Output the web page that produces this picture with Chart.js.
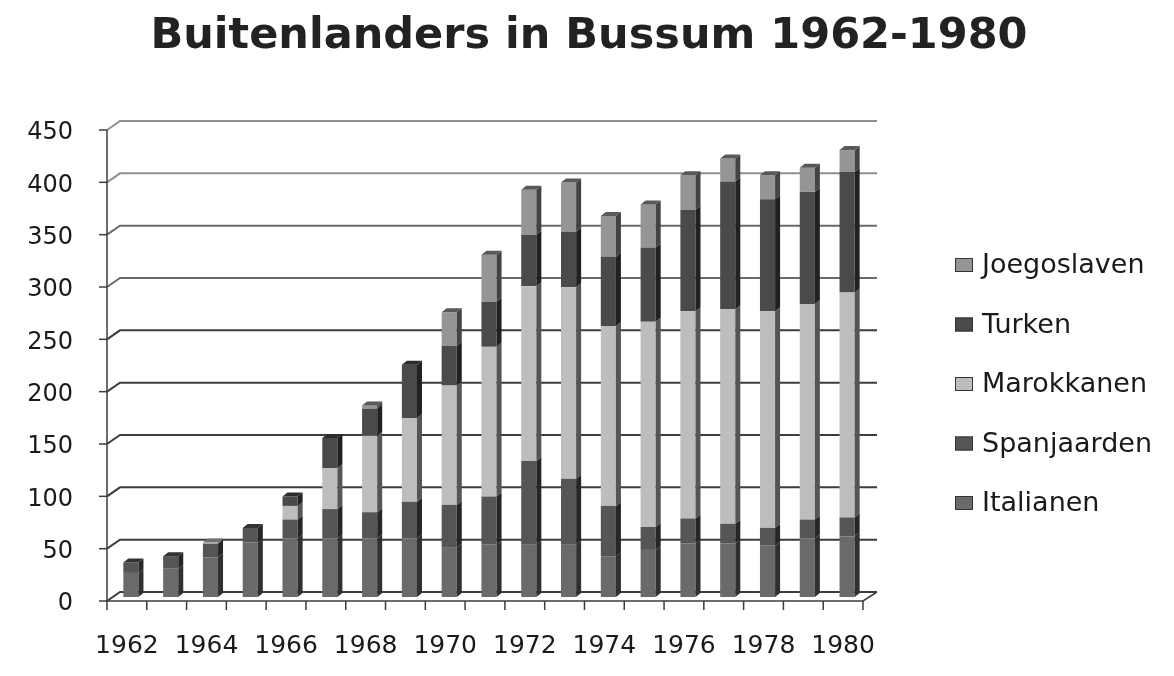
<!DOCTYPE html>
<html>
<head>
<meta charset="utf-8">
<script src="https://cdn.jsdelivr.net/npm/chart.js@4.4.0/dist/chart.umd.min.js"></script>
<style>
  html, body { margin: 0; padding: 0; background: #fff; }
  #wrap { width: 1174px; height: 676px; }
</style>
</head>
<body>
<div id="wrap"><canvas id="chart"></canvas></div>
<script>
// Data
const years = ['1962','1963','1964','1965','1966','1967','1968','1969','1970','1971',
               '1972','1973','1974','1975','1976','1977','1978','1979','1980'];
const italianen   = [23, 27, 38, 52, 56, 56, 56, 56, 47, 50, 50, 50, 39, 45, 51, 51, 49, 56, 58];
const spanjaarden = [10, 12, 13, 14, 18, 28, 25, 35, 41, 46, 80, 63, 48, 22, 24, 19, 17, 18, 18];
const marokkanen  = [ 0,  0,  1,  0, 13, 39, 73, 80,114,143,167,183,172,196,198,205,207,206,215];
const turken      = [ 0,  0,  0,  0,  9, 29, 26, 51, 38, 43, 49, 53, 66, 71, 97,122,107,107,115];
const joegoslaven = [ 0,  0,  0,  0,  0,  0,  3,  0, 32, 45, 43, 47, 39, 41, 33, 22, 23, 23, 21];
const yTicks = [0, 50, 100, 150, 200, 250, 300, 350, 400, 450];
const titleText = 'Buitenlanders in Bussum 1962-1980';

const FONT = "'DejaVu Sans', sans-serif";

// depth offsets for the fake 3D look
const DX = 5, DY = 4;
const BACK_DX = 9, BACK_DY = 5;
const FRONT_DX = -4, FRONT_DY = 4;

function shade(hex, f) {
    const n = parseInt(hex.slice(1), 16);
    const r = Math.round(((n >> 16) & 255) * f);
    const g = Math.round(((n >> 8) & 255) * f);
    const b = Math.round((n & 255) * f);
    return `rgb(${Math.min(r,255)},${Math.min(g,255)},${Math.min(b,255)})`;
}

// back wall grid, slanted floor/side lines, axis ticks, legend and title
const wallPlugin = {
    id: 'wall',
    beforeDatasetsDraw(chart) {
        const ctx = chart.ctx;
        const a = chart.chartArea;
        const ys = chart.scales.y;
        ctx.save();
        ctx.lineCap = 'butt';
        yTicks.forEach(v => {
            const yf = ys.getPixelForValue(v);
            ctx.strokeStyle = v >= 400 ? '#8f8f8f' : (v >= 300 ? '#6a6a6a' : '#3c3c3c');
            ctx.lineWidth = 2;
            ctx.beginPath();
            ctx.moveTo(a.left + FRONT_DX, yf + FRONT_DY);
            ctx.lineTo(a.left + BACK_DX, yf - BACK_DY);
            ctx.lineTo(a.right + BACK_DX + 1, yf - BACK_DY);
            ctx.stroke();
            // small tick left of axis
            ctx.strokeStyle = '#3c3c3c';
            ctx.lineWidth = 1.5;
            ctx.beginPath();
            ctx.moveTo(a.left + FRONT_DX - 8, yf + FRONT_DY);
            ctx.lineTo(a.left + FRONT_DX, yf + FRONT_DY);
            ctx.stroke();
        });
        // front vertical axis and floor edge
        const y0 = ys.getPixelForValue(0);
        const yTop = ys.getPixelForValue(450);
        ctx.strokeStyle = '#3c3c3c';
        ctx.lineWidth = 1.5;
        ctx.beginPath();
        ctx.moveTo(a.left + FRONT_DX, yTop + FRONT_DY);
        ctx.lineTo(a.left + FRONT_DX, y0 + FRONT_DY);
        ctx.lineTo(a.right + FRONT_DX, y0 + FRONT_DY);
        ctx.lineTo(a.right + BACK_DX + 1, y0 - BACK_DY);
        ctx.stroke();
        // x tick marks at category boundaries
        const step = (a.right - a.left) / years.length;
        for (let k = 0; k <= years.length; k++) {
            const x = a.left + FRONT_DX + k * step;
            ctx.beginPath();
            ctx.moveTo(x, y0 + FRONT_DY);
            ctx.lineTo(x, y0 + FRONT_DY + 9);
            ctx.stroke();
        }
        ctx.restore();
    },
    afterDatasetsDraw(chart) {
        // side and top faces of each bar segment
        const ctx = chart.ctx;
        const sets = chart.data.datasets;
        ctx.save();
        years.forEach((_, i) => {
            let topSet = -1;
            sets.forEach((ds, d) => { if (ds.data[i] > 0) topSet = d; });
            sets.forEach((ds, d) => {
                if (!(ds.data[i] > 0)) return;
                const el = chart.getDatasetMeta(d).data[i];
                const half = el.width / 2;
                const r = el.x + half;
                ctx.fillStyle = shade(ds.backgroundColor, 0.45);
                ctx.beginPath();
                ctx.moveTo(r, el.y);
                ctx.lineTo(r + DX, el.y - DY);
                ctx.lineTo(r + DX, el.base - DY);
                ctx.lineTo(r, el.base);
                ctx.closePath();
                ctx.fill();
                if (d === topSet) {
                    ctx.fillStyle = shade(ds.backgroundColor, 0.6);
                    ctx.beginPath();
                    ctx.moveTo(el.x - half, el.y);
                    ctx.lineTo(el.x - half + DX, el.y - DY);
                    ctx.lineTo(r + DX, el.y - DY);
                    ctx.lineTo(r, el.y);
                    ctx.closePath();
                    ctx.fill();
                }
            });
        });
        ctx.restore();
    },
    afterDraw(chart) {
        const ctx = chart.ctx;
        ctx.save();
        // title
        ctx.font = `bold 43px ${FONT}`;
        ctx.fillStyle = '#222';
        ctx.textAlign = 'center';
        ctx.textBaseline = 'alphabetic';
        ctx.fillText(titleText, 589, 48);
        // legend on the right, reversed order
        const sets = chart.data.datasets.slice().reverse();
        ctx.font = `27px ${FONT}`;
        ctx.textBaseline = 'middle';
        ctx.textAlign = 'left';
        sets.forEach((ds, k) => {
            const cy = 265 + k * 59.5;
            ctx.fillStyle = ds.backgroundColor;
            ctx.fillRect(955, cy - 7, 18, 14);
            ctx.strokeStyle = '#333';
            ctx.lineWidth = 1;
            ctx.strokeRect(955.5, cy - 6.5, 17, 13);
            ctx.fillStyle = '#1a1a1a';
            ctx.fillText(ds.label, 982, cy + 1);
        });
        ctx.restore();
    }
};

const ctx = document.getElementById('chart').getContext('2d');
const chart = new Chart(ctx, {
    type: 'bar',
    data: {
        labels: years,
        datasets: [
            { label: 'Italianen',   data: italianen,   backgroundColor: '#6a6a6a' },
            { label: 'Spanjaarden', data: spanjaarden, backgroundColor: '#555555' },
            { label: 'Marokkanen',  data: marokkanen,  backgroundColor: '#bdbdbd' },
            { label: 'Turken',      data: turken,      backgroundColor: '#4a4a4a' },
            { label: 'Joegoslaven', data: joegoslaven, backgroundColor: '#959595' }
        ]
    },
    options: {
        responsive: true,
        maintainAspectRatio: false,
        animation: false,
        datasets: {
            bar: { barPercentage: 0.38, categoryPercentage: 1, borderWidth: 0 }
        },
        layout: { padding: { left: 0, right: 307, top: 126, bottom: 13 } },
        plugins: {
            legend: { display: false },
            tooltip: { enabled: false },
            title: { display: false }
        },
        scales: {
            x: {
                stacked: true,
                grid: { display: false, drawTicks: false },
                border: { display: false },
                afterFit: s => { s.height = 66; },
                ticks: {
                    autoSkip: false,
                    maxRotation: 0,
                    padding: 34,
                    labelOffset: -4,
                    color: '#1a1a1a',
                    font: { family: FONT, size: 25 },
                    callback: (v, i) => (i % 2 === 0 ? years[i] : '')
                }
            },
            y: {
                stacked: true,
                min: 0,
                max: 450,
                grid: { display: false, drawTicks: false },
                border: { display: false },
                afterFit: s => { s.width = 111; },
                ticks: {
                    stepSize: 50,
                    padding: 38,
                    labelOffset: 7,
                    color: '#1a1a1a',
                    font: { family: FONT, size: 24 }
                }
            }
        }
    },
    plugins: [wallPlugin]
});
</script>
</body>
</html>
